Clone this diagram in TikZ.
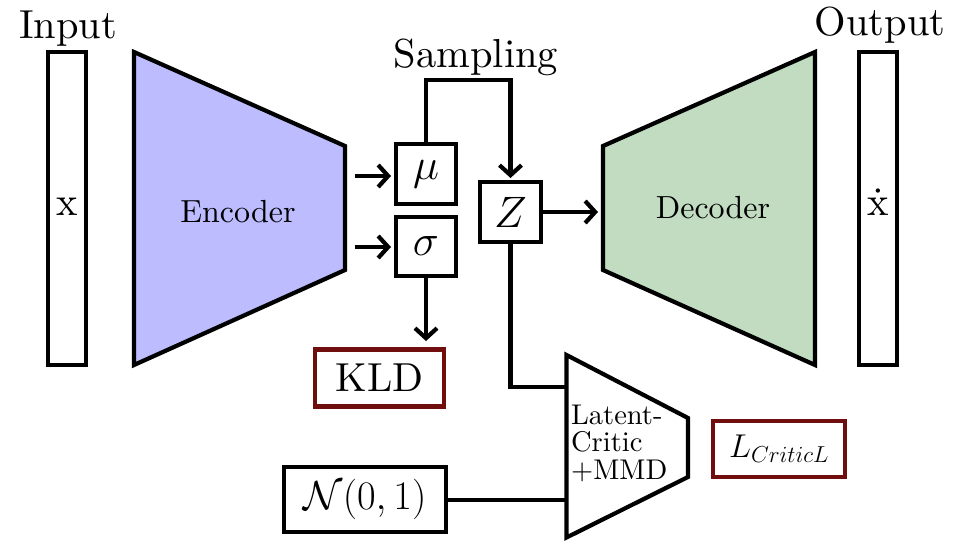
\RequirePackage{fix-cm}
\documentclass[tikz,border=0pt]{standalone}
\usepackage{fontspec}
\setmainfont{lmroman10-regular}[Extension=.otf]
\usetikzlibrary{arrows.meta}
\definecolor{encfill}{RGB}{188,188,255}
\definecolor{decfill}{RGB}{193,220,192}
\definecolor{lossred}{RGB}{112,14,14}
\begin{document}
\begin{tikzpicture}[x=1pt,y=-1pt,line width=4.2pt,line join=miter,
  lbl/.style={font=\fontsize{40.5}{48}\selectfont,inner sep=0pt},
  blocktxt/.style={font=\fontsize{32}{40}\selectfont,inner sep=0pt},
  crittxt/.style={font=\fontsize{28.5}{28}\selectfont,inner sep=0pt,anchor=base west},
  bar/.style={draw,minimum width=38pt,minimum height=313pt,inner sep=0pt},
  varbox/.style={draw,inner sep=0pt,font=\fontsize{44}{50}\selectfont},
  lossbox/.style={draw=lossred,inner sep=0pt},
  conn/.style={line width=4.2pt},
  arr/.style={conn,-{Straight Barb[length=10pt,width=22pt]}}]
\useasboundingbox (0,0) rectangle (956,544);

% input and output vectors
\node[bar] (inbar) at (67,208.5) {};
\node[lbl,anchor=base] (xin) at (67,215) {x};
\node[lbl,anchor=base] (inlbl) at (68,38) {Input};
\node[bar] (outbar) at (878,208.5) {};
\node[lbl,anchor=base] (xout) at (878,215) {\.x};
\node[lbl,anchor=base] (outlbl) at (880,35) {Output};

% encoder
\coordinate (e1) at (134,52);
\coordinate (e2) at (345,146);
\coordinate (e3) at (345,270);
\coordinate (e4) at (134,365);
\draw[fill=encfill] (e1) -- (e2) -- (e3) -- (e4) -- cycle;
\node[blocktxt,anchor=base] (enc) at (238,222) {Encoder};

% decoder
\coordinate (d1) at (603,146);
\coordinate (d2) at (815,52);
\coordinate (d3) at (815,365);
\coordinate (d4) at (603,270);
\draw[fill=decfill] (d1) -- (d2) -- (d3) -- (d4) -- cycle;
\node[blocktxt,anchor=base] (dec) at (713,218) {Decoder};

% latent variables
\node[varbox,minimum width=60pt,minimum height=60pt] (mu) at (426,174) {$\mu$};
\node[varbox,minimum width=60pt,minimum height=59pt] (sigma) at (426,246.5) {$\sigma$};
\node[varbox,minimum width=61pt,minimum height=60pt] (z) at (510.5,212) {$Z$};
\node[lbl,anchor=base] (samp) at (476,67) {Sampling};

% losses and prior
\node[lossbox,lbl,minimum width=129pt,minimum height=57pt] (kld) at (379.5,378) {KLD};
\node[draw,lbl,minimum width=162pt,minimum height=65pt] (prior) at (365,499.5) {$\mathcal{N}(0,1)$};
\node[lossbox,inner sep=0pt,font=\fontsize{33}{40}\selectfont,minimum width=132pt,minimum height=56pt] (lcrit) at (779,449) {$L_{CriticL}$};

% latent critic
\coordinate (c1) at (566.5,355);
\coordinate (c2) at (688,418);
\coordinate (c3) at (688,477);
\coordinate (c4) at (566.5,537.5);
\draw (c1) -- (c2) -- (c3) -- (c4) -- cycle;
\node[crittxt] (crit1) at (569,424) {Latent-};
\node[crittxt] (crit2) at (569,451.5) {Critic};
\node[crittxt] (crit3) at (569,479) {+MMD};
\coordinate (cz) at (566.5,387);
\coordinate (cn) at (566.5,500);

% connectors
\coordinate (eo1) at (355,176);
\coordinate (eo2) at (355,247);
\draw[arr] (eo1) -- (391,176);
\draw[arr] (eo2) -- (391,247);
\coordinate (s1) at (426,80);
\coordinate (s2) at (510.5,80);
\draw[arr] (mu.north) -- (s1) -- (s2) -- (510.5,178);
\draw[arr] (z.east) -- (598,212);
\draw[arr] (sigma.south) -- (426,341);
\draw[conn] (z.south) -- (z.south |- cz) -- (cz);
\draw[conn] (prior.east |- cn) -- (cn);
\end{tikzpicture}
\end{document}
